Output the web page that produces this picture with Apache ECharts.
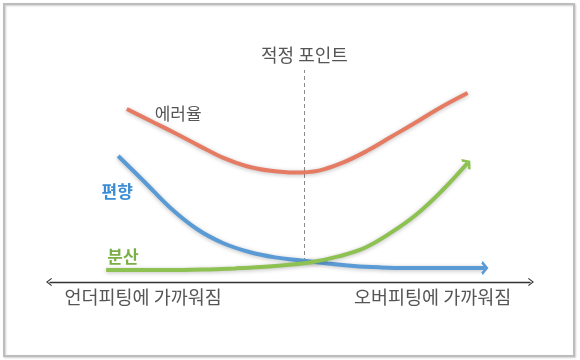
<!DOCTYPE html>
<html><head><meta charset="utf-8">
<script src="https://cdn.jsdelivr.net/npm/echarts@6/dist/echarts.min.js"></script>
<style>html,body{margin:0;padding:0;background:#fff}#c{width:580px;height:360px}</style>
</head><body><div id="c"></div>
<script>
// model complexity (x) vs. amount (y), arbitrary units
const errorX = [1.6, 2.1, 2.6, 3.1, 3.6, 4.1, 4.6, 5.1, 5.6, 6.1, 6.6, 7.1, 7.6, 8.1, 8.7];
const errorY = [8.65, 8.05, 7.45, 6.82, 6.22, 5.79, 5.56, 5.47, 5.57, 5.97, 6.55, 7.25, 7.95, 8.68, 9.45];
const biasX = [1.42, 1.97, 2.51, 3.06, 3.6, 4.15, 4.69, 5.24, 5.79, 6.33, 6.88, 7.42, 7.97, 8.51, 9.06];
const biasY = [6.3, 5.0, 3.7, 2.65, 1.95, 1.5, 1.23, 1.08, 0.93, 0.8, 0.73, 0.7, 0.7, 0.7, 0.7];
const varX = [1.17, 1.71, 2.25, 2.78, 3.32, 3.86, 4.4, 4.93, 5.47, 6.01, 6.55, 7.08, 7.62, 8.16, 8.7];
const varY = [0.6, 0.6, 0.6, 0.6, 0.63, 0.68, 0.75, 0.85, 1.0, 1.28, 1.7, 2.43, 3.35, 4.55, 5.95];
const optimalX = 5.3;
const optimalRange = [1.0, 10.6];
const seriesNames = ['에러율', '편향', '분산'];
const seriesLabelPos = [[2.67, 8.4], [1.4, 4.5], [1.52, 1.25]];
const axisLabels = ['언더피팅에 가까워짐', '오버피팅에 가까워짐'];
const axisLabelPos = [1.94, 7.97];
const optimalLabel = '적정 포인트';

const FONT = '"Noto Sans CJK KR", "Noto Sans", sans-serif';
const RED = '#E57B63', BLUE = '#5B9BD5', GREEN = '#8DC152';
const chevUp = 'path://M0,8 L7,0 L14,8 L11.6,10 L7,4.6 L2.4,10 Z';
const thinChev = 'path://M0,8 L6,0 L12,8 L10.8,9 L6,2.6 L1.2,9 Z';

function pts(xs, ys) { return xs.map((x, i) => [x, ys[i]]); }
function withArrow(data, color, rot) {
  const last = data.length - 1;
  return data.map((d, i) => i === last ? {
    value: d, symbol: chevUp, symbolSize: [14, 10], symbolRotate: rot,
    symbolKeepAspect: true, itemStyle: { color: color }
  } : d);
}
function nameLabel(name, pos, color, bold) {
  return {
    symbol: 'circle', symbolSize: 1, itemStyle: { color: 'rgba(0,0,0,0)' },
    label: { show: true, position: 'inside', color: color, fontSize: 17,
      fontWeight: bold ? 'bold' : 'normal', fontFamily: FONT },
    data: [{ coord: pos, name: name, label: { formatter: name } }]
  };
}
const shadow = { shadowBlur: 4, shadowColor: 'rgba(0,0,0,0.25)', shadowOffsetY: 1 };

const chart = echarts.init(document.getElementById('c'), null, { renderer: 'canvas' });
chart.setOption({
  animation: false,
  backgroundColor: '#fff',
  graphic: [{
    type: 'rect', shape: { x: 4, y: 4, width: 570, height: 352 },
    style: { fill: 'none', stroke: '#bdbdbd', lineWidth: 2,
      shadowBlur: 2, shadowColor: 'rgba(0,0,0,0.2)', shadowOffsetX: 1, shadowOffsetY: 1 },
    z: -1
  }],
  grid: { left: 50, right: 50, top: 42, bottom: 78 },
  xAxis: {
    type: 'value', min: 0, max: 10,
    splitLine: { show: false }, axisTick: { show: false },
    axisLine: { show: true, onZero: false,
      lineStyle: { color: '#333', width: 1.4 },
      symbol: [thinChev, thinChev], symbolSize: [9, 6], symbolOffset: [-1, 1] },
    axisLabel: {
      customValues: axisLabelPos,
      formatter: function (v) { const i = axisLabelPos.indexOf(v); return i >= 0 ? axisLabels[i] : ''; },
      color: '#555', fontSize: 18.5, fontFamily: FONT, margin: 6
    }
  },
  yAxis: { type: 'value', min: 0, max: 12, show: false },
  series: [
    {
      name: seriesNames[0], type: 'line', smooth: 0.4, symbol: 'none',
      data: pts(errorX, errorY), z: 3,
      lineStyle: Object.assign({ color: RED, width: 4 }, shadow),
      markPoint: nameLabel(seriesNames[0], seriesLabelPos[0], '#555', false),
      markLine: {
        silent: true, symbol: 'none', z: 1,
        lineStyle: { color: '#8a8a8a', type: [4, 3], width: 1 },
        label: { show: true, position: 'end', formatter: optimalLabel, color: '#555',
          fontSize: 18, fontFamily: FONT, distance: 6 },
        data: [[{ coord: [optimalX, optimalRange[0]] }, { coord: [optimalX, optimalRange[1]] }]]
      }
    },
    {
      name: seriesNames[1], type: 'line', smooth: 0.4, symbol: 'none',
      data: withArrow(pts(biasX, biasY), BLUE, -90), z: 3,
      lineStyle: Object.assign({ color: BLUE, width: 4 }, shadow),
      markPoint: nameLabel(seriesNames[1], seriesLabelPos[1], '#3A8DD4', true)
    },
    {
      name: seriesNames[2], type: 'line', smooth: 0.4, symbol: 'none',
      data: withArrow(pts(varX, varY), GREEN, -49), z: 4,
      lineStyle: Object.assign({ color: GREEN, width: 4 }, shadow),
      markPoint: nameLabel(seriesNames[2], seriesLabelPos[2], '#7BB046', true)
    }
  ]
});
</script></body></html>
